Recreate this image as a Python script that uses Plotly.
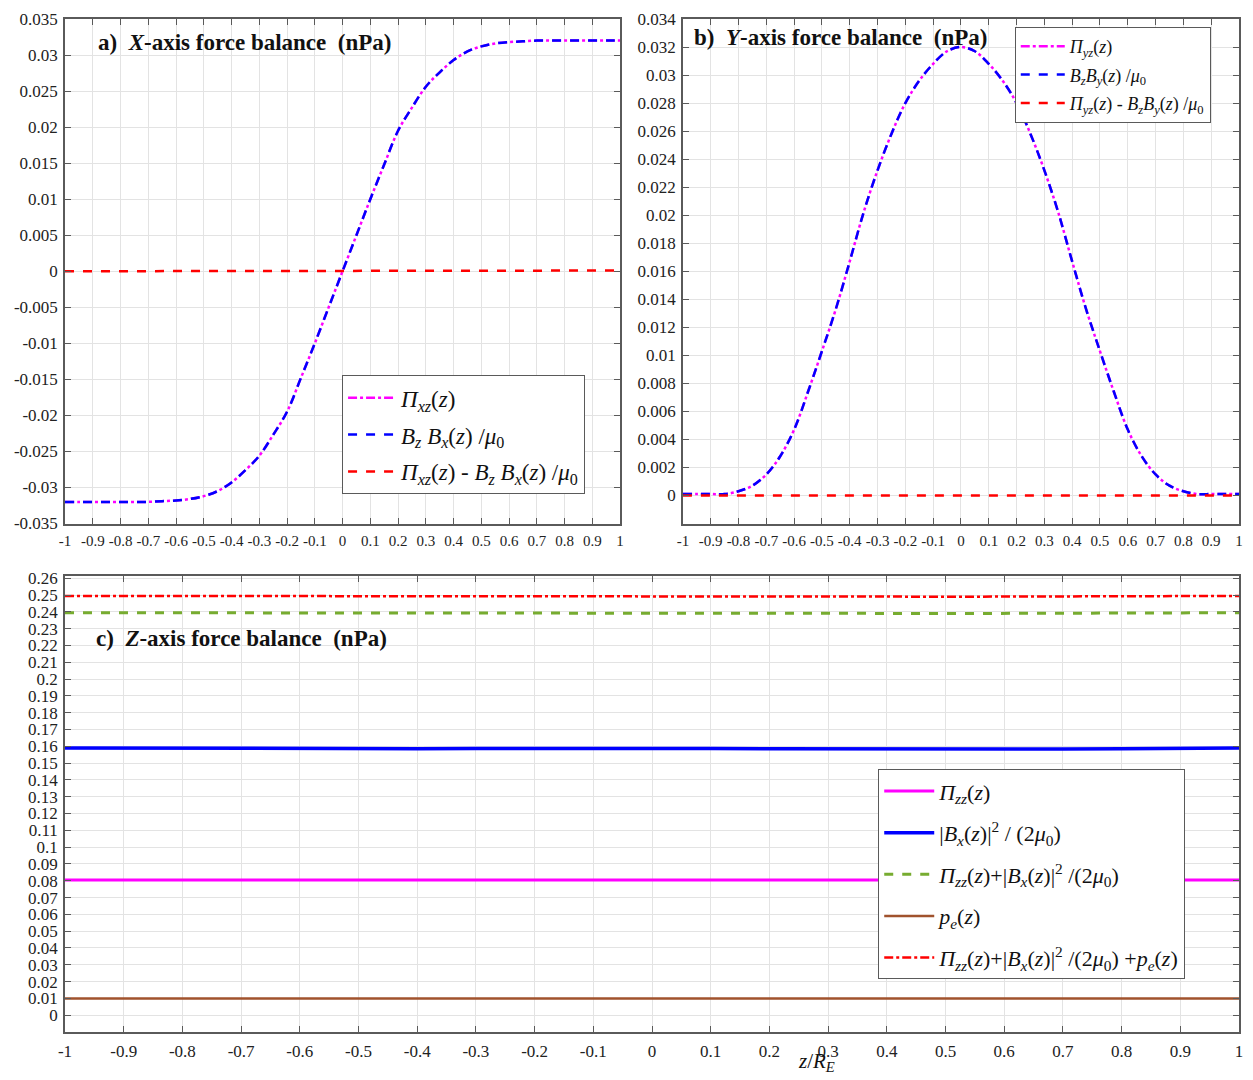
import plotly.graph_objects as go

# ---------------- data ----------------
z_ab = [-1.0, -0.95, -0.9, -0.85, -0.8, -0.75, -0.7, -0.65, -0.6, -0.55, -0.5,
        -0.45, -0.4, -0.35, -0.3, -0.25, -0.2, -0.15, -0.1, -0.05, 0.0,
        0.05, 0.1, 0.15, 0.2, 0.25, 0.3, 0.35, 0.4, 0.45, 0.5,
        0.55, 0.6, 0.65, 0.7, 0.75, 0.8, 0.85, 0.9, 0.95, 1.0]

# panel a: X-axis force balance
pi_xz = [-0.0320, -0.0320, -0.0320, -0.0320, -0.0320, -0.0320, -0.0320, -0.0319, -0.0318, -0.0316, -0.0312,
         -0.0305, -0.0293, -0.0276, -0.0256, -0.0227, -0.0195, -0.0148, -0.0100, -0.0050, 0.0000,
         0.0050, 0.0100, 0.0148, 0.0195, 0.0227, 0.0256, 0.0276, 0.0293, 0.0305, 0.0312,
         0.0316, 0.0318, 0.0319, 0.0320, 0.0320, 0.0320, 0.0320, 0.0320, 0.0320, 0.0320]
bzbx_mu0 = [-0.0320, -0.0320, -0.0320, -0.0320, -0.0320, -0.0320, -0.0320, -0.0319, -0.0318, -0.0316, -0.0312,
            -0.0305, -0.0293, -0.0276, -0.0256, -0.0227, -0.0195, -0.0148, -0.0100, -0.0050, 0.0000,
            0.0050, 0.0100, 0.0148, 0.0195, 0.0227, 0.0256, 0.0276, 0.0293, 0.0305, 0.0312,
            0.0316, 0.0318, 0.0319, 0.0320, 0.0320, 0.0320, 0.0320, 0.0320, 0.0320, 0.0320]
diff_a = [0.0, 0.0, 0.0, 0.0, 0.0, 0.0, 0.0, 0.0, 0.0, 0.0, 0.0,
          0.0, 0.0, 0.0, 0.0, 0.0, 0.0, 0.0, 0.0, 0.0, 0.0,
          0.0, 0.0, 0.0, 0.0, 0.0, 0.0, 0.0, 0.0, 0.0, 0.0,
          0.0, 0.0, 0.0, 0.0001, 0.0001, 0.0001, 0.0001, 0.0001, 0.0001, 0.0001]

# panel b: Y-axis force balance
pi_yz = [0.0001, 0.0001, 0.0001, 0.0001, 0.0003, 0.0007, 0.0015, 0.0028, 0.0047, 0.0074, 0.0103,
         0.0133, 0.0167, 0.0202, 0.0232, 0.0258, 0.0280, 0.0296, 0.0308, 0.0317, 0.0320,
         0.0317, 0.0308, 0.0296, 0.0280, 0.0258, 0.0232, 0.0202, 0.0167, 0.0133, 0.0103,
         0.0074, 0.0047, 0.0028, 0.0015, 0.0007, 0.0003, 0.0001, 0.0001, 0.0001, 0.0001]
bzby_mu0 = [0.0001, 0.0001, 0.0001, 0.0001, 0.0003, 0.0007, 0.0015, 0.0028, 0.0047, 0.0074, 0.0103,
            0.0133, 0.0167, 0.0202, 0.0232, 0.0258, 0.0280, 0.0296, 0.0308, 0.0317, 0.0320,
            0.0317, 0.0308, 0.0296, 0.0280, 0.0258, 0.0232, 0.0202, 0.0167, 0.0133, 0.0103,
            0.0074, 0.0047, 0.0028, 0.0015, 0.0007, 0.0003, 0.0001, 0.0001, 0.0001, 0.0001]
diff_b = [0.0, 0.0, 0.0, 0.0, 0.0, 0.0, 0.0, 0.0, 0.0, 0.0, 0.0,
          0.0, 0.0, 0.0, 0.0, 0.0, 0.0, 0.0, 0.0, 0.0, 0.0,
          0.0, 0.0, 0.0, 0.0, 0.0, 0.0, 0.0, 0.0, 0.0, 0.0,
          0.0, 0.0, 0.0, 0.0, 0.0, 0.0, 0.0, 0.0, 0.0, 0.0]

# panel c: Z-axis force balance
z_c = [-1.0, -0.9, -0.8, -0.7, -0.6, -0.5, -0.4, -0.3, -0.2, -0.1, 0.0,
       0.1, 0.2, 0.3, 0.4, 0.5, 0.6, 0.7, 0.8, 0.9, 1.0]
pi_zz = [0.0805, 0.0805, 0.0805, 0.0805, 0.0805, 0.0805, 0.0805, 0.0805, 0.0805, 0.0805, 0.0805,
         0.0805, 0.0805, 0.0805, 0.0805, 0.0805, 0.0805, 0.0805, 0.0805, 0.0805, 0.0805]
bx2_2mu0 = [0.1590, 0.1589, 0.1587, 0.1585, 0.1584, 0.1585, 0.1586, 0.1587, 0.1588, 0.1588, 0.1588,
            0.1587, 0.1586, 0.1585, 0.1584, 0.1583, 0.1583, 0.1584, 0.1586, 0.1588, 0.1590]
pi_plus_b = [0.2395, 0.2395, 0.2394, 0.2393, 0.2392, 0.2393, 0.2394, 0.2395, 0.2395, 0.2395, 0.2395,
             0.2394, 0.2393, 0.2392, 0.2391, 0.2390, 0.2390, 0.2391, 0.2392, 0.2394, 0.2395]
p_e = [0.0100, 0.0100, 0.0100, 0.0100, 0.0100, 0.0100, 0.0100, 0.0100, 0.0100, 0.0100, 0.0100,
       0.0100, 0.0100, 0.0100, 0.0100, 0.0100, 0.0100, 0.0100, 0.0100, 0.0100, 0.0100]
total_c = [0.2495, 0.2495, 0.2494, 0.2493, 0.2492, 0.2493, 0.2494, 0.2495, 0.2495, 0.2495, 0.2495,
           0.2494, 0.2493, 0.2492, 0.2491, 0.2490, 0.2490, 0.2491, 0.2492, 0.2494, 0.2495]

# tick labels
x_tick_vals = [-1.0, -0.9, -0.8, -0.7, -0.6, -0.5, -0.4, -0.3, -0.2, -0.1, 0.0,
               0.1, 0.2, 0.3, 0.4, 0.5, 0.6, 0.7, 0.8, 0.9, 1.0]
x_tick_text = ["-1", "-0.9", "-0.8", "-0.7", "-0.6", "-0.5", "-0.4", "-0.3", "-0.2", "-0.1", "0",
               "0.1", "0.2", "0.3", "0.4", "0.5", "0.6", "0.7", "0.8", "0.9", "1"]
ya_tick_vals = [-0.035, -0.03, -0.025, -0.02, -0.015, -0.01, -0.005, 0.0,
                0.005, 0.01, 0.015, 0.02, 0.025, 0.03, 0.035]
ya_tick_text = ["-0.035", "-0.03", "-0.025", "-0.02", "-0.015", "-0.01", "-0.005", "0",
                "0.005", "0.01", "0.015", "0.02", "0.025", "0.03", "0.035"]
yb_tick_vals = [0.0, 0.002, 0.004, 0.006, 0.008, 0.01, 0.012, 0.014, 0.016, 0.018,
                0.02, 0.022, 0.024, 0.026, 0.028, 0.03, 0.032, 0.034]
yb_tick_text = ["0", "0.002", "0.004", "0.006", "0.008", "0.01", "0.012", "0.014", "0.016", "0.018",
                "0.02", "0.022", "0.024", "0.026", "0.028", "0.03", "0.032", "0.034"]
yc_tick_vals = [0.0, 0.01, 0.02, 0.03, 0.04, 0.05, 0.06, 0.07, 0.08, 0.09, 0.1, 0.11, 0.12, 0.13,
                0.14, 0.15, 0.16, 0.17, 0.18, 0.19, 0.2, 0.21, 0.22, 0.23, 0.24, 0.25, 0.26]
yc_tick_text = ["0", "0.01", "0.02", "0.03", "0.04", "0.05", "0.06", "0.07", "0.08", "0.09", "0.1",
                "0.11", "0.12", "0.13", "0.14", "0.15", "0.16", "0.17", "0.18", "0.19", "0.2",
                "0.21", "0.22", "0.23", "0.24", "0.25", "0.26"]

# ---------------- figure ----------------
SERIF = "Liberation Serif"
MAG = "#ff00ff"
BLUE = "#0000ff"
RED = "#ff0000"
GREEN = "#77ac30"
BROWN = "#a0522d"

fig = go.Figure()


def add(x, y, ax, leg, grp, color, width, dash, name, shape="linear"):
    fig.add_trace(go.Scatter(x=x, y=y, mode="lines", xaxis="x" + ax, yaxis="y" + ax,
                             legend=leg, legendgroup=grp,
                             line=dict(color=color, width=width, dash=dash, shape=shape),
                             name=name))


# panel a
add(z_ab, pi_xz, "", "legend", "a1", MAG, 2.5, "dashdot",
    "<i>Π</i><sub><i>xz</i></sub>(<i>z</i>)", "spline")
add(z_ab, bzbx_mu0, "", "legend", "a2", BLUE, 2.5, "dash",
    "<i>B</i><sub><i>z</i></sub> <i>B</i><sub><i>x</i></sub>(<i>z</i>) /<i>μ</i><sub>0</sub>", "spline")
add(z_ab, diff_a, "", "legend", "a3", RED, 2.5, "dash",
    "<i>Π</i><sub><i>xz</i></sub>(<i>z</i>) - <i>B</i><sub><i>z</i></sub> <i>B</i><sub><i>x</i></sub>(<i>z</i>) /<i>μ</i><sub>0</sub>")

# panel b
add(z_ab, pi_yz, "2", "legend2", "b1", MAG, 2.5, "dashdot",
    "<i>Π</i><sub><i>yz</i></sub>(<i>z</i>)", "spline")
add(z_ab, bzby_mu0, "2", "legend2", "b2", BLUE, 2.5, "dash",
    "<i>B</i><sub><i>z</i></sub><i>B</i><sub><i>y</i></sub>(<i>z</i>) /<i>μ</i><sub>0</sub>", "spline")
add(z_ab, diff_b, "2", "legend2", "b3", RED, 2.5, "dash",
    "<i>Π</i><sub><i>yz</i></sub>(<i>z</i>) - <i>B</i><sub><i>z</i></sub><i>B</i><sub><i>y</i></sub>(<i>z</i>) /<i>μ</i><sub>0</sub>")

# panel c
add(z_c, pi_zz, "3", "legend3", "c1", MAG, 3, "solid",
    "<i>Π</i><sub><i>zz</i></sub>(<i>z</i>)")
add(z_c, bx2_2mu0, "3", "legend3", "c2", BLUE, 3.5, "solid",
    "|<i>B</i><sub><i>x</i></sub>(<i>z</i>)|<sup>2</sup> / (2<i>μ</i><sub>0</sub>)")
add(z_c, pi_plus_b, "3", "legend3", "c3", GREEN, 3, "dash",
    "<i>Π</i><sub><i>zz</i></sub>(<i>z</i>)+|<i>B</i><sub><i>x</i></sub>(<i>z</i>)|<sup>2</sup> /(2<i>μ</i><sub>0</sub>)")
add(z_c, p_e, "3", "legend3", "c4", BROWN, 2.5, "solid",
    "<i>p</i><sub><i>e</i></sub>(<i>z</i>)")
add(z_c, total_c, "3", "legend3", "c5", RED, 2.5, "dashdot",
    "<i>Π</i><sub><i>zz</i></sub>(<i>z</i>)+|<i>B</i><sub><i>x</i></sub>(<i>z</i>)|<sup>2</sup> /(2<i>μ</i><sub>0</sub>) +<i>p</i><sub><i>e</i></sub>(<i>z</i>)")

L, R, T, B = 65, 10, 14, 48
W, H = 1253, 1080
PW, PH = W - L - R, H - T - B


def px_x(p):
    return (p - L) / PW


def px_y(p):
    return (H - B - p) / PH


def axis(size, standoff=0):
    return dict(showline=True, linecolor="#5a5a5a", linewidth=1.5, mirror="allticks",
                ticks="inside", ticklen=6, tickcolor="#5a5a5a", showgrid=True,
                gridcolor="#e3e3e3", gridwidth=1, zeroline=False,
                tickfont=dict(family=SERIF, size=size, color="#222"), tickangle=0,
                ticklabelstandoff=standoff)


legend_common = dict(xanchor="left", yanchor="top", bgcolor="white", bordercolor="#5a5a5a",
                     borderwidth=1, traceorder="grouped")

fig.update_layout(
    width=W, height=H,
    margin=dict(l=L, r=R, t=T, b=B),
    paper_bgcolor="white", plot_bgcolor="white",
    font=dict(family=SERIF, color="#111"),
    xaxis=dict(domain=[0, px_x(622)], range=[-1, 1], anchor="y",
               tickvals=x_tick_vals, ticktext=x_tick_text, **axis(15, 3)),
    yaxis=dict(domain=[px_y(521), 1], range=[-0.035, 0.035], anchor="x",
               tickvals=ya_tick_vals, ticktext=ya_tick_text, **axis(17, 2)),
    xaxis2=dict(domain=[px_x(685), 1], range=[-1, 1], anchor="y2",
                tickvals=x_tick_vals, ticktext=x_tick_text, **axis(15, 3)),
    yaxis2=dict(domain=[px_y(521), 1], range=[-0.002, 0.034], anchor="x2",
                tickvals=yb_tick_vals, ticktext=yb_tick_text, **axis(17, 2)),
    xaxis3=dict(domain=[0, 1], range=[-1, 1], anchor="y3",
                tickvals=x_tick_vals, ticktext=x_tick_text, **axis(17, 3)),
    yaxis3=dict(domain=[0, px_y(574)], range=[-0.01, 0.2612], anchor="x3",
                tickvals=yc_tick_vals, ticktext=yc_tick_text, **axis(17, 2)),
    legend=dict(x=px_x(343), y=px_y(372), font=dict(family=SERIF, size=23, color="#111"),
                tracegroupgap=4, itemwidth=48, **legend_common),
    legend2=dict(x=px_x(1018), y=px_y(22), font=dict(family=SERIF, size=18, color="#111"),
                 tracegroupgap=2, itemwidth=44, **legend_common),
    legend3=dict(x=px_x(881), y=px_y(768), font=dict(family=SERIF, size=22, color="#111"),
                 tracegroupgap=10, itemwidth=50, **legend_common),
    showlegend=True,
)

title_font = dict(family=SERIF, size=23, color="#111")
NB = "&nbsp;"
fig.add_annotation(xref="paper", yref="paper", x=px_x(96), y=px_y(38), xanchor="left", yanchor="middle",
                   text=f"<b>a){NB}{NB}<i>X</i>-axis force balance{NB}{NB}(nPa)</b>", showarrow=False,
                   font=title_font)
fig.add_annotation(xref="paper", yref="paper", x=px_x(694), y=px_y(33), xanchor="left", yanchor="middle",
                   text=f"<b>b){NB}{NB}<i>Y</i>-axis force balance{NB}{NB}(nPa)</b>", showarrow=False,
                   font=title_font)
fig.add_annotation(xref="paper", yref="paper", x=px_x(94), y=px_y(637), xanchor="left", yanchor="middle",
                   text=f"<b>c){NB}{NB}<i>Z</i>-axis force balance{NB}{NB}(nPa)</b>", showarrow=False,
                   font=title_font)
fig.add_annotation(xref="paper", yref="paper", x=px_x(798), y=px_y(1062), xanchor="left", yanchor="middle",
                   text="<i>z</i>/<i>R</i><sub><i>E</i></sub>", showarrow=False,
                   font=dict(family=SERIF, size=21, color="#111"))

fig.write_html("out.html")
